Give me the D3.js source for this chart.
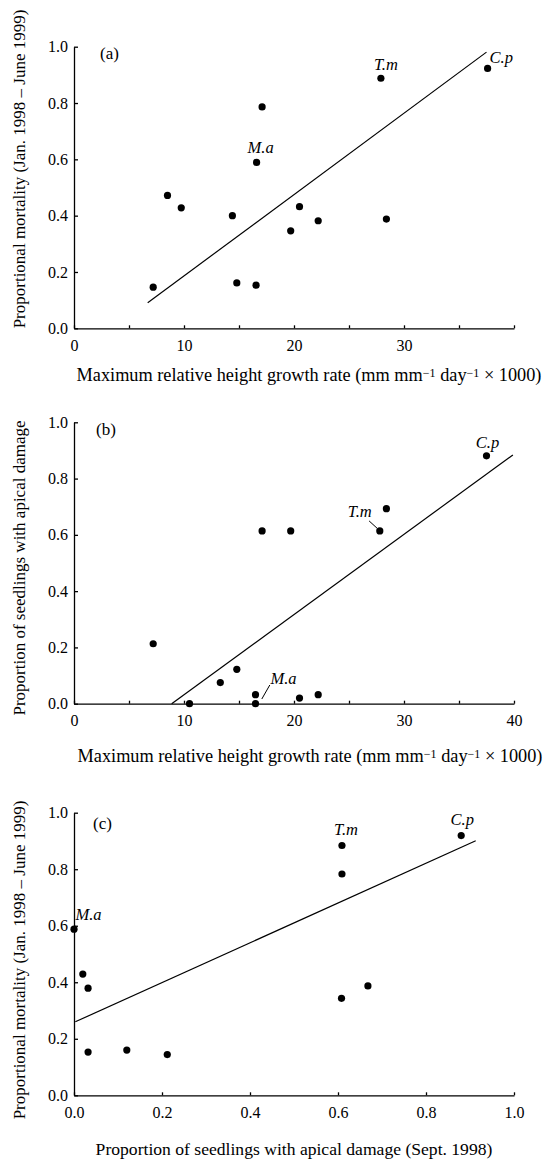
<!DOCTYPE html>
<html lang="en">
<head>
<meta charset="utf-8">
<script src="https://cdnjs.cloudflare.com/ajax/libs/d3/7.8.5/d3.min.js"></script>
<style>
    body { margin: 0; background: #fff; }
    svg text { font-family: "Liberation Serif", Tinos, "Times New Roman", Times, "DejaVu Serif", serif; fill: #000; }
    .axis path, .axis line { stroke: #000; stroke-width: 1.3; }
    .axis text { font-size: 16px; }
</style>
</head>
<body>
<svg></svg>
<script>
    // panel (a): growth rate vs mortality
    const growthA = [7.2, 8.5, 9.75, 14.4, 14.8, 16.55, 16.6, 17.1, 19.7, 20.5, 22.2, 27.9, 28.4, 37.6]
    const mortA = [0.146, 0.472, 0.428, 0.40, 0.161, 0.153, 0.589, 0.786, 0.346, 0.432, 0.382, 0.888, 0.388, 0.923]
    const fitA = [[6.7, -0.103 + 0.0289 * 6.7], [37.5, -0.103 + 0.0289 * 37.5]]

    // panel (b): growth rate vs apical damage
    const growthB = [7.2, 10.5, 13.3, 14.8, 16.5, 16.5, 17.1, 19.7, 20.5, 22.2, 27.8, 28.4, 37.5]
    const damageB = [0.213, 0.0, 0.075, 0.122, 0.032, 0.0, 0.614, 0.614, 0.02, 0.032, 0.614, 0.693, 0.881]
    const fitB = [[8.88, 0], [39.9, -0.253 + 0.0285 * 39.9]]

    // panel (c): apical damage vs mortality
    const damageC = [0.0, 0.02, 0.032, 0.032, 0.12, 0.212, 0.608, 0.609, 0.609, 0.668, 0.880]
    const mortC = [0.588, 0.429, 0.379, 0.153, 0.160, 0.144, 0.343, 0.783, 0.884, 0.387, 0.919]
    const fitC = [[0.003, 0.258 + 0.704 * 0.003], [0.913, 0.258 + 0.704 * 0.913]]

    const yTicks = [0, 0.2, 0.4, 0.6, 0.8, 1.0]
    const growthTicks = [0, 5, 10, 15, 20, 25, 30, 35, 40]
    const growthLabelsA = [0, 10, 20, 30]
    const growthLabelsB = [0, 10, 20, 30, 40]
    const damageTicks = [0, 0.2, 0.4, 0.6, 0.8, 1.0]

    // species labels: [index of point, name]
    const speciesA = [[11, 'T.m'], [13, 'C.p'], [6, 'M.a']]
    const speciesB = [[12, 'C.p'], [10, 'T.m'], [5, 'M.a']]
    const speciesC = [[8, 'T.m'], [10, 'C.p'], [0, 'M.a']]

    const svg = d3.select('svg').attr('width', 549).attr('height', 1159)

    const left = 74, right = 514

    function sup(sel, parts) {
        parts.forEach(p => {
            const t = sel.append('tspan').text(p[0])
            if (p[1]) t.attr('font-size', '12px').attr('baseline-shift', '35%')
        })
    }

    function panel(o) {
        const g = svg.append('g')
        const x = d3.scaleLinear().domain(o.xDomain).range([left, right])
        const y = d3.scaleLinear().domain([0, 1]).range([o.bottom, o.top])

        g.append('g').attr('class', 'axis')
            .attr('transform', 'translate(0,' + o.bottom + ')')
            .call(d3.axisBottom(x).tickValues(o.xTicks).tickSizeInner(-3).tickSizeOuter(0).tickPadding(11)
                .tickFormat(d => o.xLabels.includes(d) ? o.xFmt(d) : ''))

        g.append('g').attr('class', 'axis')
            .attr('transform', 'translate(' + left + ',0)')
            .call(d3.axisLeft(y).tickValues(yTicks).tickSizeInner(-4).tickSizeOuter(0).tickPadding(6)
                .tickFormat(d3.format('.1f')))

        g.append('line')
            .attr('x1', x(o.fit[0][0])).attr('y1', y(o.fit[0][1]))
            .attr('x2', x(o.fit[1][0])).attr('y2', y(o.fit[1][1]))
            .attr('stroke', '#000').attr('stroke-width', 1.2)

        g.selectAll('circle.pt')
            .data(o.xs)
            .enter()
            .append('circle')
            .attr('class', 'pt')
            .attr('cx', d => x(d))
            .attr('cy', (d, i) => y(o.ys[i]))
            .attr('r', 3.6)
            .attr('fill', '#000')

        o.species.forEach((s, k) => {
            const px = x(o.xs[s[0]]), py = y(o.ys[s[0]])
            const off = o.offsets[k]
            g.append('text')
                .attr('x', px + off[0]).attr('y', py + off[1])
                .attr('text-anchor', off[2])
                .attr('font-size', '16.5px').attr('font-style', 'italic')
                .text(s[1])
            if (off[3]) {
                g.append('line')
                    .attr('x1', px + off[3][0]).attr('y1', py + off[3][1])
                    .attr('x2', px + off[3][2]).attr('y2', py + off[3][3])
                    .attr('stroke', '#000').attr('stroke-width', 1)
            }
        })

        g.append('text')
            .attr('x', o.tagX).attr('y', o.top + o.tagDy)
            .attr('font-size', '17px')
            .text(o.tag)

        const xt = g.append('text')
            .attr('x', o.xTitleX).attr('y', o.xTitleY)
            .attr('text-anchor', 'middle')
            .attr('font-size', o.xTitleSize)
        sup(xt, o.xTitle)

        g.append('text')
            .attr('transform', 'translate(25,' + o.yTitleY + ') rotate(-90)')
            .attr('text-anchor', 'middle')
            .attr('font-size', '17px')
            .text(o.yTitle)
    }

    const growthTitle = [['Maximum relative height growth rate (mm mm'], ['\u22121', true], [' day'], ['\u22121', true], [' \u00d7 1000)']]

    panel({
        top: 46.7, bottom: 328.3, xDomain: [0, 40], xTicks: growthTicks, xLabels: growthLabelsA,
        xFmt: d3.format('d'), xs: growthA, ys: mortA, fit: fitA, species: speciesA,
        offsets: [[5, -8, 'middle'], [2, -5, 'start'], [4, -9, 'middle']],
        tag: '(a)', tagX: 100, tagDy: 12, xTitle: growthTitle, xTitleX: 309, xTitleY: 381, xTitleSize: '18.3px',
        yTitle: 'Proportional mortality (Jan. 1998 \u2013 June 1999)', yTitleY: 169
    })

    panel({
        top: 422.3, bottom: 703.7, xDomain: [0, 40], xTicks: growthTicks, xLabels: growthLabelsB,
        xFmt: d3.format('d'), xs: growthB, ys: damageB, fit: fitB, species: speciesB,
        offsets: [[1, -8, 'middle'], [-20, -14, 'middle', [-10.7, -10, -2.7, -2.7]], [28, -20, 'middle', [6.3, -4.7, 14.3, -18.7]]],
        tag: '(b)', tagX: 96, tagDy: 13, xTitle: growthTitle, xTitleX: 310, xTitleY: 762, xTitleSize: '18.3px',
        yTitle: 'Proportion of seedlings with apical damage', yTitleY: 568
    })

    panel({
        top: 812.7, bottom: 1095.3, xDomain: [0, 1], xTicks: damageTicks, xLabels: damageTicks,
        xFmt: d3.format('.1f'), xs: damageC, ys: mortC, fit: fitC, species: speciesC,
        offsets: [[4, -10, 'middle'], [1, -11, 'middle'], [1.5, -9, 'start']],
        tag: '(c)', tagX: 93, tagDy: 16, xTitle: [['Proportion of seedlings with apical damage (Sept. 1998)']], xTitleX: 294, xTitleY: 1155, xTitleSize: '17.6px',
        yTitle: 'Proportional mortality (Jan. 1998 \u2013 June 1999)', yTitleY: 960
    })
</script>
</body>
</html>
